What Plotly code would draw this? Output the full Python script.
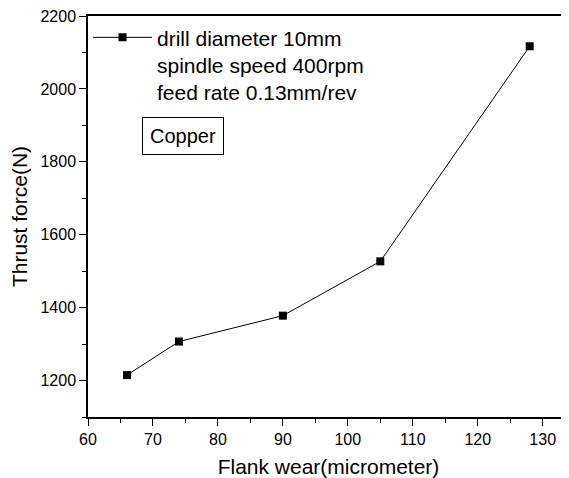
import plotly.graph_objects as go

flank_wear = [66, 74, 90, 105, 128]
thrust_force = [1215, 1307, 1378, 1527, 2117]

x_ticks = [60, 70, 80, 90, 100, 110, 120, 130]
y_ticks = [1200, 1400, 1600, 1800, 2000, 2200]

series_name = "drill diameter 10mm<br>spindle speed 400rpm<br>feed rate 0.13mm/rev"
label_text = "Copper"

FONT = "Liberation Sans, Arial, sans-serif"

fig = go.Figure()
fig.add_trace(go.Scatter(
    x=flank_wear, y=thrust_force, mode="lines+markers",
    name=series_name,
    line=dict(color="black", width=1),
    marker=dict(symbol="square", size=8, color="black"),
))

# page body has an 8px default margin, so the figure is sized/offset accordingly
fig.update_layout(
    width=561, height=470,
    margin=dict(l=80, r=0, t=8, b=61, autoexpand=False),
    paper_bgcolor="white", plot_bgcolor="white",
    font=dict(family=FONT, color="black"),
    showlegend=True,
    legend=dict(
        x=0.0, y=0.997, xanchor="left", yanchor="top",
        bgcolor="rgba(0,0,0,0)", font=dict(size=21, family=FONT),
        valign="top", itemwidth=59, tracegroupgap=0,
    ),
    annotations=[dict(
        x=0.1985, y=0.7007, xref="paper", yref="paper",
        xanchor="center", yanchor="middle",
        text=label_text, showarrow=False,
        font=dict(size=20, family=FONT),
        bordercolor="black", borderwidth=1, borderpad=7,
        bgcolor="white",
    )],
)

fig.update_xaxes(
    range=[60, 134.05], tickvals=x_ticks, ticktext=[str(v) for v in x_ticks],
    showgrid=False, zeroline=False, automargin=False, ticklabeloverflow="allow",
    showline=True, linecolor="black", linewidth=1.5, mirror=True,
    ticks="outside", ticklen=7, tickwidth=1.2, tickcolor="black",
    tickfont=dict(size=16, family=FONT),
    minor=dict(dtick=5, tick0=60, ticks="outside", ticklen=4, tickwidth=1.2, tickcolor="black", showgrid=False),
    title=dict(text="Flank wear(micrometer)", font=dict(size=21, family=FONT), standoff=13),
)
fig.update_yaxes(
    range=[1100, 2200], tickvals=y_ticks, ticktext=[str(v) for v in y_ticks],
    showgrid=False, zeroline=False, automargin=False, ticklabeloverflow="allow",
    showline=True, linecolor="black", linewidth=1.5, mirror=False,
    ticks="outside", ticklen=7, tickwidth=1.2, tickcolor="black",
    tickfont=dict(size=16, family=FONT),
    minor=dict(dtick=100, tick0=1100, ticks="outside", ticklen=4, tickwidth=1.2, tickcolor="black", showgrid=False),
    title=dict(text="Thrust force(N)", font=dict(size=21, family=FONT), standoff=11),
)

fig.write_html("out.html")
